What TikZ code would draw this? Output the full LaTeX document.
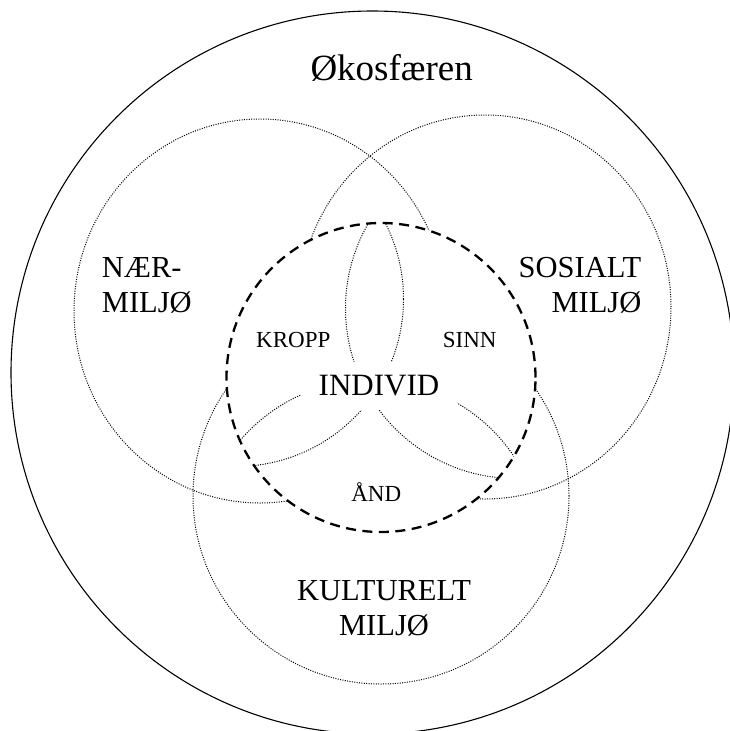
\documentclass[tikz,border=0pt]{standalone}
\usepackage{fontspec}
\setmainfont{Liberation Serif}
\begin{document}
\begin{tikzpicture}[x=1pt,y=-1pt,
  dotline/.style={line width=1pt, dash pattern=on 1pt off 1.4pt},
  bigline/.style={line width=1.1pt},
  dashline/.style={line width=2.3pt, dash pattern=on 10pt off 6.5pt},
  lab/.style={inner sep=0pt, font=\fontsize{30.5}{35.4}\selectfont},
  small/.style={inner sep=0pt, font=\fontsize{23}{27}\selectfont}]
\useasboundingbox (0,0) rectangle (729,731);
% outer sphere
\draw[bigline] (372.5,372.5) circle[radius=361.5pt];
% three environments
\draw[dotline] (260,311) ellipse[x radius=186pt, y radius=192pt];
\draw[dotline] (485,307) ellipse[x radius=186pt, y radius=192pt];
\draw[dotline] (381,496) circle[radius=188pt];
% individual
\fill[white] (381,377.5) circle[radius=154.5pt];
\begin{scope}
\clip (381,377.5) circle[radius=154.5pt];
\draw[dotline] (236,299) circle[radius=167.5pt];
\draw[dotline] (515.5,308.5) circle[radius=170pt];
\draw[dotline] (371,552) circle[radius=172pt];
\end{scope}
\node[fill=white, minimum width=156pt, minimum height=48pt, inner sep=0pt,
  font=\fontsize{31}{36}\selectfont] (individ) at (379,385.9) {INDIVID};
\draw[dashline] (381,377.5) circle[radius=154.5pt];
% labels
\node[inner sep=0pt, anchor=base, font=\fontsize{37}{42}\selectfont] (oko) at (391.7,80) {Økosfæren};
\node[lab, align=left, anchor=base west] (naer) at (101.7,312.7) {NÆR-\\MILJØ};
\node[lab, align=right, anchor=base east] (sosialt) at (641.5,312.7) {SOSIALT\\MILJØ};
\node[lab, align=center, anchor=base] (kultur) at (384,635.4) {KULTURELT\\MILJØ};
\node[small, anchor=base] (kropp) at (293.3,347.7) {KROPP};
\node[small, anchor=base] (sinn) at (469.7,347.7) {SINN};
\node[small, anchor=base] (aand) at (376.3,501.7) {ÅND};
\end{tikzpicture}
\end{document}
